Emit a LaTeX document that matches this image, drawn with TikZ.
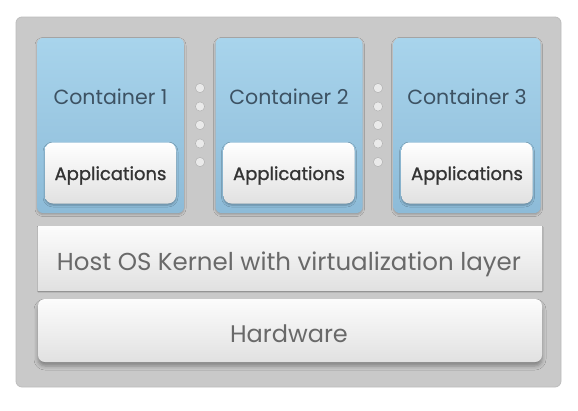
\documentclass[tikz,border=0pt]{standalone}
\usepackage{fontspec}
\setmainfont{Poppins}
\newfontfamily\appfont{Poppins}[FakeBold=1.2]
\usepackage{tikz}
\usetikzlibrary{positioning, shadows.blur}
\definecolor{framegray}{HTML}{C9C9C9}
\definecolor{frameedge}{HTML}{BDBDBD}
\definecolor{skytop}{HTML}{A8D4EC}
\definecolor{skybottom}{HTML}{8DBBD8}
\definecolor{paneltop}{HTML}{FCFCFC}
\definecolor{panelbottom}{HTML}{E1E1E1}
\definecolor{slatetext}{HTML}{3D5263}
\definecolor{inktext}{HTML}{333333}
\definecolor{greytext}{HTML}{696969}
\definecolor{dotfill}{HTML}{EAEAEA}
\definecolor{dotedge}{HTML}{B4B4B4}

\tikzset{
  containerbox/.style={rounded corners=6pt, top color=skytop, bottom color=skybottom,
    minimum width=147pt, minimum height=175pt, inner sep=0pt,
    blur shadow={shadow xshift=0pt, shadow yshift=-1.5pt, shadow blur radius=2pt, shadow opacity=25}},
  appbox/.style={rounded corners=8pt, top color=white, bottom color=panelbottom,
    minimum width=131pt, minimum height=61pt, inner sep=0pt,
    blur shadow={shadow xshift=0pt, shadow yshift=-1.5pt, shadow blur radius=2pt, shadow opacity=30}},
  layerbox/.style={top color=paneltop, bottom color=panelbottom,
    minimum width=504pt, inner sep=0pt},
  boxtext/.style={anchor=base, inner sep=0pt}
}

\begin{document}
\begin{tikzpicture}[x=1pt, y=-1pt]
  \useasboundingbox[fill=white] (0,0) rectangle (578,410);

  % Outer frame
  \node[draw=frameedge, fill=framegray, rounded corners=6pt, line width=0.8pt,
    minimum width=545pt, minimum height=370pt, inner sep=0pt] (frame) at (288.5,202) {};

  % Containers with their applications
  \foreach \i/\x in {1/110.5, 2/289, 3/467} {
    \node[containerbox] (cont\i) at (\x,125.5) {};
    \node[boxtext, slatetext, font=\fontsize{20.5}{20.5}\selectfont] (cont\i lbl) at (\x,104) {Container \i};
    \node[appbox] (app\i) at (\x,173) {};
    \node[boxtext, inktext, font=\appfont\fontsize{18}{18}\selectfont] (app\i lbl) at (\x,180) {Applications};
  }

  % Dots between containers
  \foreach \x in {200, 378} {
    \foreach \y in {88, 106.5, 125, 143.5, 162} {
      \fill[dotfill, draw=dotedge, line width=0.5pt] (\x,\y) circle (4.6pt);
    }
  }

  % Host kernel layer
  \node[layerbox, minimum height=64pt,
    blur shadow={shadow xshift=0pt, shadow yshift=-1pt, shadow blur radius=1pt, shadow opacity=35}]
    (kernel) at (290,258) {};
  \node[boxtext, greytext, font=\fontsize{24.5}{24.5}\selectfont] (kernel lbl) at (289,270)
    {Host OS Kernel with virtualization layer};

  % Hardware layer
  \node[layerbox, minimum height=63pt, rounded corners=7pt,
    blur shadow={shadow xshift=0pt, shadow yshift=-4pt, shadow blur radius=4pt, shadow opacity=35}]
    (hardware) at (290,330.5) {};
  \node[boxtext, greytext, font=\fontsize{24}{24}\selectfont] (hardware lbl) at (289,342) {Hardware};
\end{tikzpicture}
\end{document}
